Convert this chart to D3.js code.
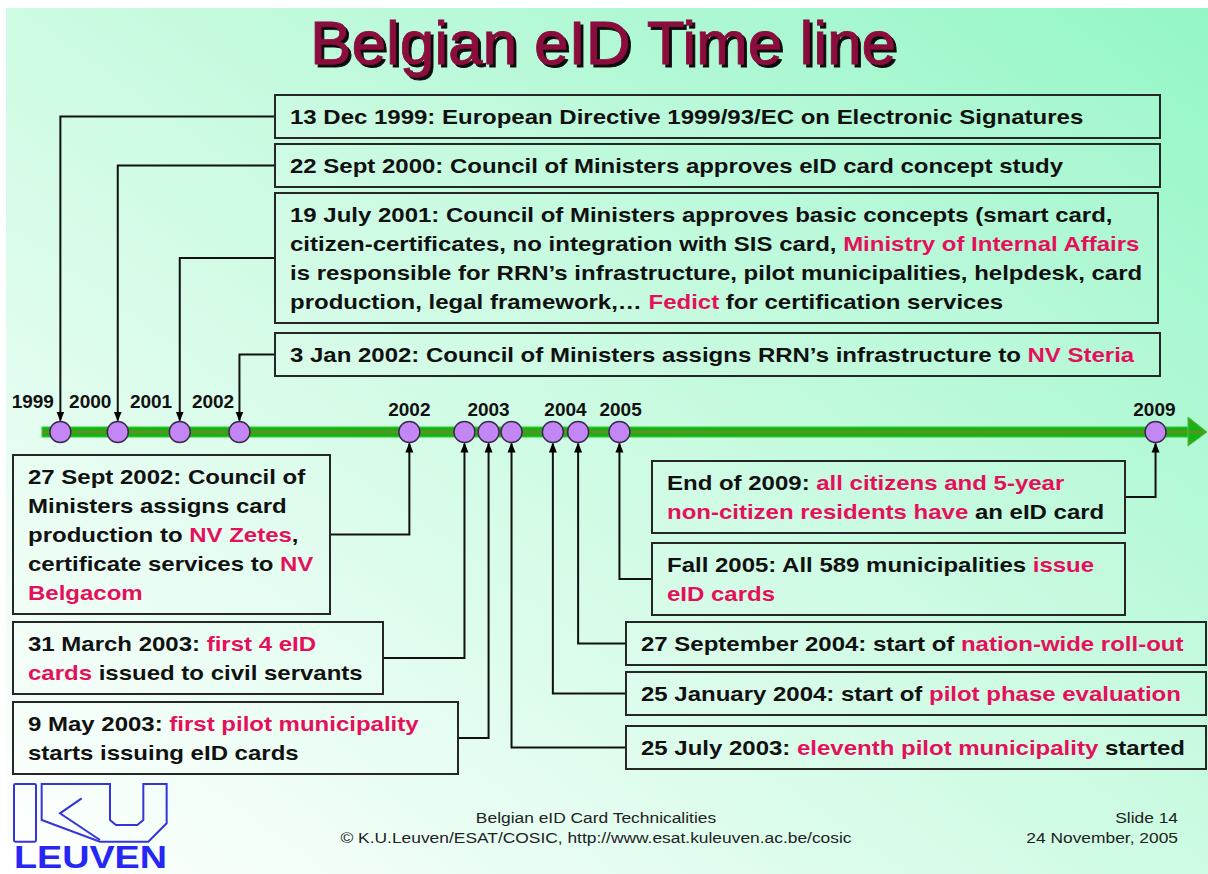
<!DOCTYPE html>
<html>
<head>
<meta charset="utf-8">
<script src="https://cdn.jsdelivr.net/npm/d3@7/dist/d3.min.js"></script>
<style>
html, body { margin: 0; padding: 0; background: #fff; }
svg { display: block; font-family: "Liberation Sans", Arial, sans-serif; }
</style>
</head>
<body>
<div id="chart"></div>
<script>
// event dates and their (schematic) place along the arrow, 0..100
var eventDates = ["1999-12-13", "2000-09-22", "2001-07-19", "2002-01-03", "2002-09-27", "2003-03-31",
                  "2003-05-09", "2003-07-25", "2004-01-25", "2004-09-27", "2005-10-01", "2009-12-31"];
var eventSlots = [1.6, 6.6, 12.0, 17.2, 32.0, 36.8, 38.9, 40.9, 44.5, 46.7, 50.3, 97.0];

var yearLabels = ["1999", "2000", "2001", "2002", "2002", "2003", "2004", "2005", "2009"];
var yearSlots = [-0.8, 4.2, 9.5, 14.9, 32.0, 38.9, 45.6, 50.4, 96.9];

// text of each event, {..} = highlighted
var eventTexts = [
    ["13 Dec 1999: European Directive 1999/93/EC on Electronic Signatures"],
    ["22 Sept 2000: Council of Ministers approves eID card concept study"],
    ["19 July 2001: Council of Ministers approves basic concepts (smart card,",
     "citizen-certificates, no integration with SIS card, {Ministry of Internal Affairs}",
     "is responsible for RRN\u2019s infrastructure, pilot municipalities, helpdesk, card",
     "production, legal framework,\u2026 {Fedict} for certification services"],
    ["3 Jan 2002: Council of Ministers assigns RRN\u2019s infrastructure to {NV Steria}"],
    ["27 Sept 2002: Council of", "Ministers assigns card", "production to {NV Zetes},",
     "certificate services to {NV}", "{Belgacom}"],
    ["31 March 2003: {first 4 eID}", "{cards} issued to civil servants"],
    ["9 May 2003: {first pilot municipality}", "starts issuing eID cards"],
    ["25 July 2003: {eleventh pilot municipality} started"],
    ["25 January 2004: start of {pilot phase evaluation}"],
    ["27 September 2004: start of {nation-wide roll-out}"],
    ["Fall 2005: All 589 municipalities {issue}", "{eID cards}"],
    ["End of 2009: {all citizens and 5-year}", "{non-citizen residents have} an eID card"]
];

// where each box sits: x, y, width, side the connector leaves from
var boxLayout = [
    [275, 95, 885, "L"], [275, 144, 885, "L"], [275, 193, 883, "L"], [275, 333, 885, "L"],
    [13, 455, 317, "R"], [13, 622, 370, "R"], [13, 702, 445, "R"],
    [626, 726, 580, "L"], [626, 672, 580, "L"], [626, 622, 580, "L"],
    [652, 543, 473, "L"], [652, 461, 473, "R"]
];

var W = 1208, H = 874;
var axisY = 432, r = 10.5, lineH = 29;
var stretch = 1.2;   // slide text is drawn a bit wide
var red = "#e5105c";

var svg = d3.select("#chart").append("svg")
    .attr("width", W).attr("height", H);

var defs = svg.append("defs");
var bg = defs.append("linearGradient").attr("id", "bg")
    .attr("x1", 0).attr("y1", 1).attr("x2", 1).attr("y2", 0);
bg.append("stop").attr("offset", 0).attr("stop-color", "#ffffff");
bg.append("stop").attr("offset", 0.5).attr("stop-color", "#cdfbe3");
bg.append("stop").attr("offset", 1).attr("stop-color", "#94f6c6");

var shadow = defs.append("filter").attr("id", "shadow")
    .attr("x", "-5%").attr("y", "-10%").attr("width", "115%").attr("height", "130%");
shadow.append("feDropShadow").attr("dx", 3).attr("dy", 3).attr("stdDeviation", 0)
    .attr("flood-color", "#111").attr("flood-opacity", 1);

var zig = defs.append("pattern").attr("id", "zig")
    .attr("patternUnits", "userSpaceOnUse")
    .attr("x", 0).attr("y", axisY - 5).attr("width", 8).attr("height", 10);
zig.append("rect").attr("width", 8).attr("height", 10).attr("fill", "#14b414");
zig.append("path").attr("d", "M0,6 L2,4 L4,6 L6,4 L8,6")
    .attr("fill", "none").attr("stroke", "#ff3b3b").attr("stroke-width", 1);

defs.append("marker").attr("id", "arr")
    .attr("viewBox", "0 0 10 10").attr("refX", 9).attr("refY", 5)
    .attr("markerUnits", "userSpaceOnUse")
    .attr("markerWidth", 10).attr("markerHeight", 10)
    .attr("orient", "auto")
    .append("path").attr("d", "M0,1 L10,5 L0,9 Z").attr("fill", "#000");

svg.append("rect").attr("x", 6).attr("y", 8).attr("width", W - 6).attr("height", H - 8)
    .attr("fill", "url(#bg)");

// title
svg.append("text").attr("x", 603).attr("y", 64).attr("text-anchor", "middle")
    .attr("font-size", 62).attr("fill", "#8a0a3c")
    .attr("stroke", "#8a0a3c").attr("stroke-width", 0.8)
    .attr("filter", "url(#shadow)")
    .text("Belgian eID Time line");

var x = d3.scaleLinear().domain([0, 100]).range([42, 1190]);

var events = eventDates.map(function (d, i) {
    var b = boxLayout[i];
    return { date: d3.timeParse("%Y-%m-%d")(d), slot: eventSlots[i], lines: eventTexts[i],
             bx: b[0], by: b[1], bw: b[2], side: b[3], bh: 14 + lineH * eventTexts[i].length };
});

// connectors
svg.append("g").selectAll("path").data(events).join("path")
    .attr("d", function (e) {
        var cx = x(e.slot), cy = e.by + e.bh / 2;
        var sx = e.side === "L" ? e.bx : e.bx + e.bw;
        var ey = e.by < axisY ? axisY - r - 1 : axisY + r + 1;
        return "M" + sx + "," + cy + " H" + cx + " V" + ey;
    })
    .attr("fill", "none").attr("stroke", "#111").attr("stroke-width", 2)
    .attr("marker-end", "url(#arr)");

// timeline bar
svg.append("rect").attr("x", x(0)).attr("y", axisY - 5).attr("width", x(100) - x(0) - 2).attr("height", 10)
    .attr("fill", "url(#zig)").attr("stroke", "#33cc33").attr("stroke-width", 1);
svg.append("path")
    .attr("d", "M" + (x(100) - 2) + "," + (axisY - 15) + " L" + (x(100) + 17) + "," + axisY +
               " L" + (x(100) - 2) + "," + (axisY + 14) + " Z")
    .attr("fill", "url(#zig)").attr("stroke", "#33cc33").attr("stroke-width", 1);

svg.append("g").selectAll("circle").data(events).join("circle")
    .attr("cx", function (e) { return x(e.slot); }).attr("cy", axisY).attr("r", r)
    .attr("fill", "#c387f5").attr("stroke", "#3b2b4b").attr("stroke-width", 1.5);

// year labels
svg.append("g").selectAll("text").data(yearLabels).join("text")
    .attr("x", function (d, i) { return x(yearSlots[i]); })
    .attr("y", function (d, i) { return yearSlots[i] < 20 ? 408 : 416; })
    .attr("text-anchor", "middle").attr("font-size", 19).attr("font-weight", "bold")
    .attr("fill", "#111").text(function (d) { return d; });

// boxes
var box = svg.append("g").selectAll("g").data(events).join("g");
box.append("rect")
    .attr("x", function (e) { return e.bx; }).attr("y", function (e) { return e.by; })
    .attr("width", function (e) { return e.bw; }).attr("height", function (e) { return e.bh; })
    .attr("fill", "#ffffff").attr("fill-opacity", 0.08)
    .attr("stroke", "#262626").attr("stroke-width", 2);

box.each(function (e) {
    var g = d3.select(this);
    e.lines.forEach(function (line, li) {
        var t = g.append("text")
            .attr("transform", "translate(" + (e.bx + 15) + "," + (e.by + 29 + li * lineH) + ") scale(" + stretch + ",1)")
            .attr("font-size", 20).attr("font-weight", "bold").attr("fill", "#111");
        line.split(/(\{[^}]*\})/).forEach(function (part) {
            if (!part) return;
            var hi = part.charAt(0) === "{";
            t.append("tspan").attr("fill", hi ? red : "#111")
                .text(hi ? part.slice(1, -1) : part);
        });
    });
});

// footer
function footText(tx, ty, anchor, s) {
    svg.append("text")
        .attr("transform", "translate(" + tx + "," + ty + ") scale(" + stretch + ",1)")
        .attr("text-anchor", anchor).attr("font-size", 14.5).attr("fill", "#222").text(s);
}
footText(596, 823, "middle", "Belgian eID Card Technicalities");
footText(596, 843, "middle", "\u00a9 K.U.Leuven/ESAT/COSIC, http://www.esat.kuleuven.ac.be/cosic");
footText(1178, 823, "end", "Slide 14");
footText(1178, 843, "end", "24 November, 2005");

// K.U.Leuven logo (drawn in 3x units)
var logo = svg.append("g").attr("transform", "translate(0,770) scale(0.3333)")
    .attr("fill", "none").attr("stroke", "#3434d8").attr("stroke-width", 6);
logo.append("rect").attr("x", 42).attr("y", 42).attr("width", 66).attr("height", 173).attr("rx", 4);
logo.append("path")
    .attr("d", "M125,42 L330,42 L330,150 L348,165 L412,165 L430,150 L430,42 L500,42 L500,160 " +
               "L445,215 L300,215 L125,150 Z");
logo.append("path").attr("d", "M245,85 L180,130 L300,210");
svg.append("text").attr("x", 14).attr("y", 868)
    .attr("font-size", 31).attr("font-weight", "bold").attr("fill", "#2626f5")
    .attr("textLength", 153).attr("lengthAdjust", "spacingAndGlyphs").text("LEUVEN");
</script>
</body>
</html>
